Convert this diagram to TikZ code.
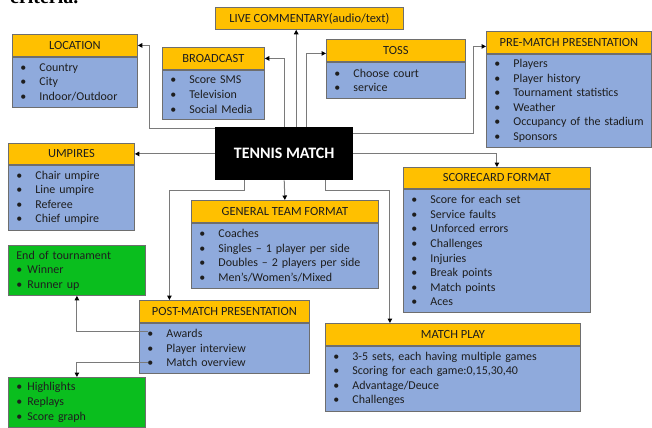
\documentclass[tikz,border=0pt]{standalone}
\usepackage{fontspec}
\setmainfont{Carlito}
\newfontfamily\docserif{Liberation Serif}
\usetikzlibrary{arrows.meta}

\definecolor{hdrgold}{HTML}{FFC000}
\definecolor{bodyblue}{HTML}{8FAADC}
\definecolor{leafgreen}{RGB}{10,190,30}
\definecolor{boxline}{HTML}{6E6E6E}
\definecolor{connline}{HTML}{7A7A7A}
\definecolor{inktext}{HTML}{1E1E1E}

% bullet markers
\newcommand{\bl}{\hspace*{4bp}\makebox[19bp][l]{•}}
\newcommand{\gbl}{\hspace*{4bp}\makebox[11bp][l]{•}}

% titled box: name, x, y, width, header height, body height, title, items
\newcommand{\tbox}[8]{%
  \pgfmathsetmacro\tbw{#4-8}%
  \node[hdr, minimum width=#4bp, minimum height=#5bp, anchor=north west] (#1) at (#2,#3) {#7};
  \node[bodybox, minimum width=#4bp, minimum height=#6bp, text width=\tbw bp, anchor=north west] (#1b) at (#1.south west) {#8};
}

\begin{document}
\begin{tikzpicture}[x=1bp,y=-1bp,
  hdr/.style={draw=boxline, line width=0.8bp, fill=hdrgold, inner sep=0pt, text=inktext,
    font=\fontsize{12.5}{15}\selectfont},
  bodybox/.style={draw=boxline, line width=0.8bp, fill=bodyblue, inner xsep=4bp, inner ysep=0pt,
    align=left, text=inktext, font=\fontsize{12}{14.6}\selectfont},
  leaf/.style={draw=boxline, line width=0.8bp, fill=leafgreen, inner xsep=4bp, inner ysep=0pt,
    align=left, text=inktext, font=\fontsize{12}{14.6}\selectfont, anchor=north west},
  conn/.style={draw=connline, line width=1bp, -{Triangle[length=4.5bp,width=4.5bp,color=black]}}]

\useasboundingbox (0,0) rectangle (652,427);
\fill[white] (0,0) rectangle (652,427);

% heading of the page above the chart
\node[font=\docserif\bfseries\fontsize{20}{24}\selectfont, anchor=base west, inner sep=0pt] (crit) at (10,3.5) {criteria.};

% centre
\node[fill=black, minimum width=138bp, minimum height=53bp, inner sep=0pt, anchor=north west,
  text=white, font=\bfseries\fontsize{16}{19}\selectfont] (tm) at (215,127) {TENNIS MATCH};

% top row
\node[hdr, minimum width=188bp, minimum height=22bp, anchor=north west] (lc) at (215,7) {LIVE COMMENTARY(audio/text)};

\tbox{loc}{12}{34}{125}{22}{50}{LOCATION}{\bl Country\\\bl City\\\bl Indoor/Outdoor}
\tbox{bc}{162}{47}{102}{22}{49}{BROADCAST}{\bl Score SMS\\\bl Television\\\bl Social Media}
\tbox{toss}{326}{39}{139}{22}{36}{TOSS}{\bl Choose court\\\bl service}
\tbox{pm}{486}{31}{165}{22}{93}{PRE-MATCH PRESENTATION}{\bl Players\\\bl Player history\\\bl Tournament statistics\\\bl Weather\\\bl Occupancy of the stadium\\\bl Sponsors}

% middle and bottom
\tbox{ump}{8}{143}{126}{21}{65}{UMPIRES}{\bl Chair umpire\\\bl Line umpire\\\bl Referee\\\bl Chief umpire}
\tbox{gtf}{191}{200}{187}{22}{65}{GENERAL TEAM FORMAT}{\bl Coaches\\\bl Singles -- 1 player per side\\\bl Doubles -- 2 players per side\\\bl Men's/Women's/Mixed}
\tbox{sc}{403}{167}{187}{21}{123}{SCORECARD FORMAT}{\bl Score for each set\\\bl Service faults\\\bl Unforced errors\\\bl Challenges\\\bl Injuries\\\bl Break points\\\bl Match points\\\bl Aces}
\tbox{post}{139}{300}{170}{22}{50}{POST-MATCH PRESENTATION}{\bl Awards\\\bl Player interview\\\bl Match overview}
\tbox{mp}{325}{323}{255}{22}{65}{MATCH PLAY}{\bl 3-5 sets, each having multiple games\\\bl Scoring for each game:0,15,30,40\\\bl Advantage/Deuce\\\bl Challenges}

\node[leaf, minimum width=137bp, minimum height=50bp, text width=129bp] (eot) at (8,245)
  {\hspace*{4bp}End of tournament\\\gbl Winner\\\gbl Runner up};
\node[leaf, minimum width=137bp, minimum height=50bp, text width=129bp] (hl) at (8,377)
  {\gbl Highlights\\\gbl Replays\\\gbl Score graph};

% connectors from the centre
\coordinate (tmL) at ([xshift=12bp]tm.north);
\coordinate (tmT) at ([xshift=22bp]tm.north);
\coordinate (tmP) at ([xshift=-40bp]tm.south);
\coordinate (tmQ) at ([xshift=41bp]tm.south);

\draw[conn] ([yshift=-1bp]tm.north west) -- ++(-66,0) |- (loc.east);
\draw[conn] (tm.north) |- (bc.east);
\draw[conn] (tmL) -- (tmL |- lc.south);
\draw[conn] (tmT) |- ([yshift=-3bp]toss.west);
\draw[conn] ([yshift=-6bp]tm.north east) -- ++(120,0) |- ([yshift=-4bp]pm.west);
\draw[conn] (tm.west |- ump.east) -- (ump.east);
\draw[conn] ([yshift=-26bp]tm.north east) -| (sc.north);
\draw[conn] (tm.south) -- (gtf.north);
\draw[conn] (tmP) -- ++(0,10) -| ([xshift=-55bp]post.north);
\draw[conn] (tmQ) -- ++(0,10) -| ([xshift=-63bp]mp.north);

% connectors from the post-match items
\coordinate (awd) at ([xshift=9bp,yshift=-9bp]postb.north west);
\coordinate (mov) at ([xshift=9bp,yshift=11bp]postb.south west);
\draw[conn] (awd) -| (eot.south);
\draw[conn] (mov) -| (hl.north);

\end{tikzpicture}
\end{document}
